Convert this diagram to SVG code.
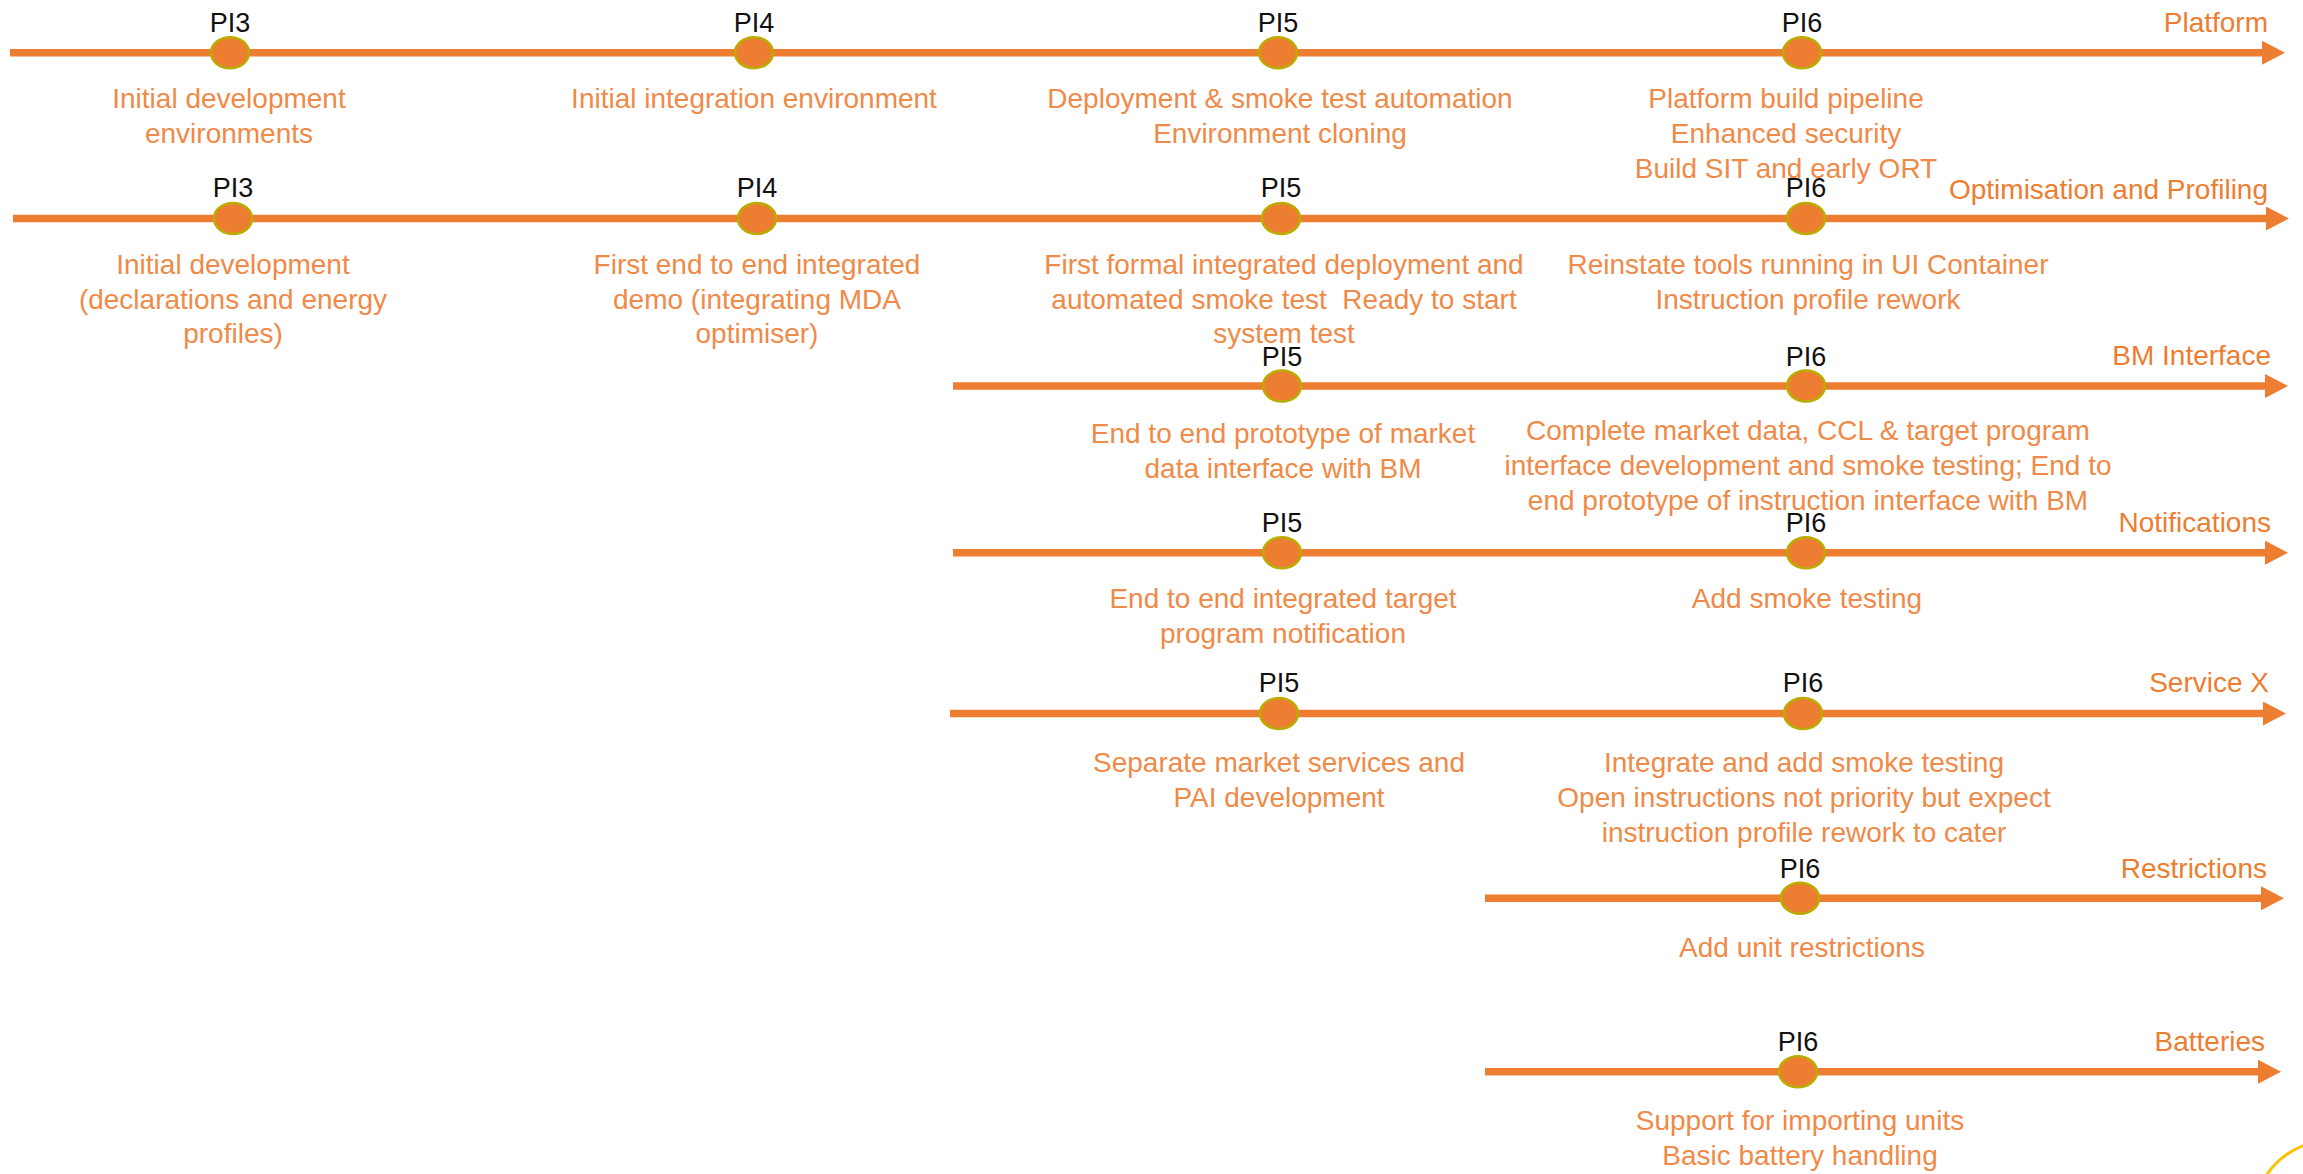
<svg xmlns="http://www.w3.org/2000/svg" width="2303" height="1174" viewBox="0 0 2303 1174">
<style>
text{font-family:"Liberation Sans",Arial,sans-serif;font-size:28px}
.pi{fill:#111111;text-anchor:middle;font-size:27px}
.desc{fill:#EF8A48;text-anchor:middle}
.title{fill:#ED7D31;text-anchor:end}
.dot{fill:#ED7D31;stroke:#BBAD00;stroke-width:2.5}
.tl{stroke:#ED7D31;stroke-width:7.5;fill:none}
</style>
<defs>
<marker id="ah" viewBox="0 0 23 24" markerWidth="23" markerHeight="24" refX="1" refY="12" orient="auto" markerUnits="userSpaceOnUse">
<path d="M0,0 L23,12 L0,24 z" fill="#ED7D31"/>
</marker>
</defs>
<g id="connectors">
<line class="tl" x1="10" y1="52.7" x2="2263" y2="52.7" marker-end="url(#ah)"/>
<line class="tl" x1="13" y1="218.5" x2="2267" y2="218.5" marker-end="url(#ah)"/>
<line class="tl" x1="953" y1="386" x2="2266" y2="386" marker-end="url(#ah)"/>
<line class="tl" x1="953" y1="552.7" x2="2266" y2="552.7" marker-end="url(#ah)"/>
<line class="tl" x1="950" y1="713.5" x2="2264" y2="713.5" marker-end="url(#ah)"/>
<line class="tl" x1="1485" y1="898.3" x2="2262" y2="898.3" marker-end="url(#ah)"/>
<line class="tl" x1="1485" y1="1071.7" x2="2259" y2="1071.7" marker-end="url(#ah)"/>
</g>
<g id="titles">
<text class="title" x="2268" y="32">Platform</text>
<text class="title" x="2268" y="199">Optimisation and Profiling</text>
<text class="title" x="2271" y="365">BM Interface</text>
<text class="title" x="2271" y="532">Notifications</text>
<text class="title" x="2269" y="692">Service X</text>
<text class="title" x="2267" y="878">Restrictions</text>
<text class="title" x="2265" y="1051">Batteries</text>
</g>
<g id="platform-pi3"><ellipse class="dot" cx="230" cy="52.7" rx="19" ry="15.5"/><text class="pi" x="230" y="32">PI3</text>
<text class="desc" y="108"><tspan x="229">Initial development</tspan><tspan x="229" dy="35">environments</tspan></text></g>
<g id="platform-pi4"><ellipse class="dot" cx="754" cy="52.7" rx="19" ry="15.5"/><text class="pi" x="754" y="32">PI4</text>
<text class="desc" x="754" y="108">Initial integration environment</text></g>
<g id="platform-pi5"><ellipse class="dot" cx="1278" cy="52.7" rx="19" ry="15.5"/><text class="pi" x="1278" y="32">PI5</text>
<text class="desc" y="108"><tspan x="1280">Deployment &amp; smoke test automation</tspan><tspan x="1280" dy="35">Environment cloning</tspan></text></g>
<g id="platform-pi6"><ellipse class="dot" cx="1802" cy="52.7" rx="19" ry="15.5"/><text class="pi" x="1802" y="32">PI6</text>
<text class="desc" y="108"><tspan x="1786">Platform build pipeline</tspan><tspan x="1786" dy="35">Enhanced security</tspan><tspan x="1786" dy="35">Build SIT and early ORT</tspan></text></g>

<g id="opt-pi3"><ellipse class="dot" cx="233" cy="218.5" rx="19" ry="15.5"/><text class="pi" x="233" y="197">PI3</text>
<text class="desc" y="274"><tspan x="233">Initial development</tspan><tspan x="233" dy="34.5">(declarations and energy</tspan><tspan x="233" dy="34.5">profiles)</tspan></text></g>
<g id="opt-pi4"><ellipse class="dot" cx="757" cy="218.5" rx="19" ry="15.5"/><text class="pi" x="757" y="197">PI4</text>
<text class="desc" y="274"><tspan x="757">First end to end integrated</tspan><tspan x="757" dy="34.5">demo (integrating MDA</tspan><tspan x="757" dy="34.5">optimiser)</tspan></text></g>
<g id="opt-pi5"><ellipse class="dot" cx="1281" cy="218.5" rx="19" ry="15.5"/><text class="pi" x="1281" y="197">PI5</text>
<text class="desc" y="274"><tspan x="1284">First formal integrated deployment and</tspan><tspan x="1284" dy="34.5" xml:space="preserve">automated smoke test  Ready to start</tspan><tspan x="1284" dy="34.5">system test</tspan></text></g>
<g id="opt-pi6"><ellipse class="dot" cx="1806" cy="218.5" rx="19" ry="15.5"/><text class="pi" x="1806" y="197">PI6</text>
<text class="desc" y="274"><tspan x="1808">Reinstate tools running in UI Container</tspan><tspan x="1808" dy="34.5">Instruction profile rework</tspan></text></g>

<g id="bm-pi5"><ellipse class="dot" cx="1282" cy="386" rx="19" ry="15.5"/><text class="pi" x="1282" y="366">PI5</text>
<text class="desc" y="443"><tspan x="1283">End to end prototype of market</tspan><tspan x="1283" dy="34.5">data interface with BM</tspan></text></g>
<g id="bm-pi6"><ellipse class="dot" cx="1806" cy="386" rx="19" ry="15.5"/><text class="pi" x="1806" y="366">PI6</text>
<text class="desc" y="440"><tspan x="1808">Complete market data, CCL &amp; target program</tspan><tspan x="1808" dy="35">interface development and smoke testing; End to</tspan><tspan x="1808" dy="35">end prototype of instruction interface with BM</tspan></text></g>

<g id="notif-pi5"><ellipse class="dot" cx="1282" cy="552.7" rx="19" ry="15.5"/><text class="pi" x="1282" y="532">PI5</text>
<text class="desc" y="608"><tspan x="1283">End to end integrated target</tspan><tspan x="1283" dy="35">program notification</tspan></text></g>
<g id="notif-pi6"><ellipse class="dot" cx="1806" cy="552.7" rx="19" ry="15.5"/><text class="pi" x="1806" y="532">PI6</text>
<text class="desc" x="1807" y="608">Add smoke testing</text></g>

<g id="svcx-pi5"><ellipse class="dot" cx="1279" cy="713.5" rx="19" ry="15.5"/><text class="pi" x="1279" y="692">PI5</text>
<text class="desc" y="772"><tspan x="1279">Separate market services and</tspan><tspan x="1279" dy="35">PAI development</tspan></text></g>
<g id="svcx-pi6"><ellipse class="dot" cx="1803" cy="713.5" rx="19" ry="15.5"/><text class="pi" x="1803" y="692">PI6</text>
<text class="desc" y="772"><tspan x="1804">Integrate and add smoke testing</tspan><tspan x="1804" dy="35">Open instructions not priority but expect</tspan><tspan x="1804" dy="35">instruction profile rework to cater</tspan></text></g>

<g id="restr-pi6"><ellipse class="dot" cx="1800" cy="898.3" rx="19" ry="15.5"/><text class="pi" x="1800" y="878">PI6</text>
<text class="desc" x="1802" y="957">Add unit restrictions</text></g>

<g id="batt-pi6"><ellipse class="dot" cx="1798" cy="1071.7" rx="19" ry="15.5"/><text class="pi" x="1798" y="1051">PI6</text>
<text class="desc" y="1130"><tspan x="1800">Support for importing units</tspan><tspan x="1800" dy="35">Basic battery handling</tspan></text></g>

<path d="M2266,1176 A78,78 0 0 1 2305,1145" fill="none" stroke="#FFC000" stroke-width="3"/>
</svg>
